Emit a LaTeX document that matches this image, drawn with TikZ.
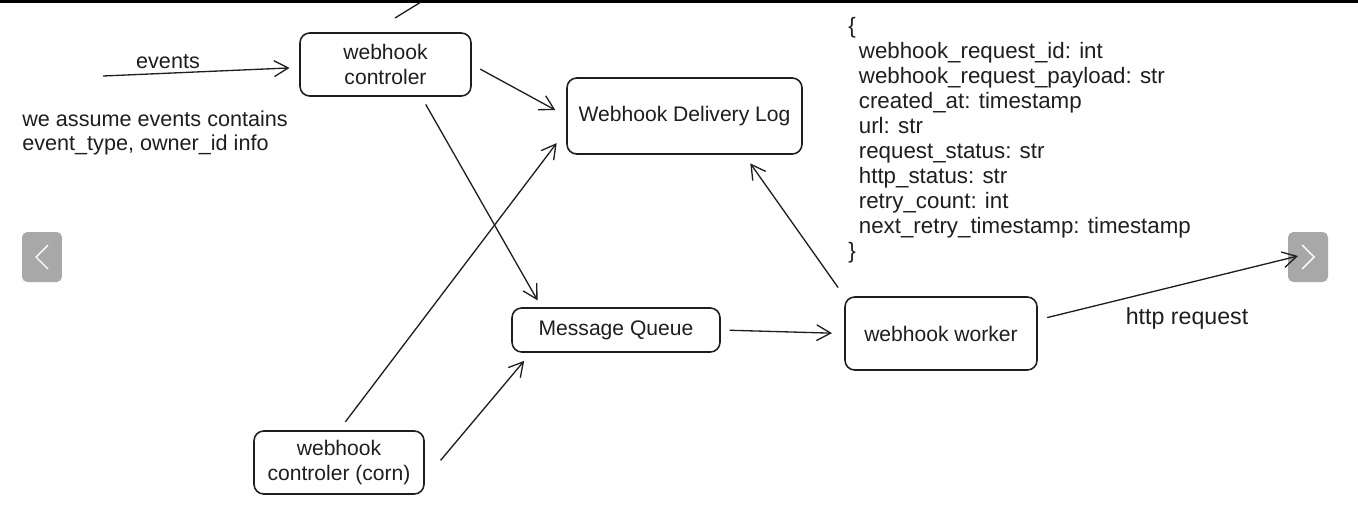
\documentclass[tikz,border=0pt]{standalone}
\usepackage{fontspec}
\setmainfont{Liberation Sans}
\usepackage{xcolor}
\usepackage{tikz}
\usetikzlibrary{arrows.meta, calc}
\definecolor{inkblack}{RGB}{30,30,30}
\definecolor{navgray}{RGB}{168,168,168}

\begin{document}
\begin{tikzpicture}[
    x=0.02cm, y=-0.02cm,
    box/.style={rectangle, rounded corners=5.5pt, draw=inkblack, line width=0.9pt, align=center, text=inkblack, font=\fontsize{12}{14.2}\selectfont},
    note/.style={align=left, inner sep=0pt, text=inkblack, font=\fontsize{12.3}{14.2}\selectfont},
    navbtn/.style={rectangle, rounded corners=3pt, fill=navgray, minimum width=0.8cm, minimum height=1.0cm},
    chevron/.style={draw=white, line width=0.8pt},
    arrow/.style={-{Straight Barb[length=8pt, width=9pt]}, line width=0.75pt, draw=inkblack}
]
\useasboundingbox (0,0) rectangle (1358,521);
\fill[black] (0,0) rectangle (1358,3);

% slide buttons
\node[navbtn] (prevbtn) at (42,257) {};
\node[navbtn] (nextbtn) at (1308,257) {};
\draw[chevron] ($(prevbtn.center)+(6,-12)$) -- ++(-12,12) -- ++(12,12);
\draw[chevron] ($(nextbtn.center)+(-6,-12)$) -- ++(12,12) -- ++(-12,12);

\node[box, minimum width=3.42cm, minimum height=1.26cm] (ctrl) at (385.5,64.5) {webhook\\controler};
\node[box, minimum width=4.7cm, minimum height=1.52cm] (log) at (684.5,116) {Webhook Delivery Log};
\node[box, minimum width=4.16cm, minimum height=0.88cm] (mq) at (616,330) {Message Queue};
\node[box, minimum width=3.84cm, minimum height=1.46cm] (worker) at (941,333.5) {webhook worker};
\node[box, minimum width=3.4cm, minimum height=1.26cm] (corn) at (339,462.5) {webhook\\controler (corn)};

\node[note] (evlabel) at (168,62) {events};
\node[note, anchor=north west] (assume) at (22,110) {we assume events contains\\event\_type, owner\_id info};
\node[note, font=\fontsize{13.2}{15}\selectfont] (httplabel) at (1187,318) {http request};
\node[note, anchor=north west, font=\fontsize{12.7}{14.2}\selectfont] (schema) at (848,17) {\{\\
\hspace*{6pt}webhook\_request\_id: int\\
\hspace*{6pt}webhook\_request\_payload: str\\
\hspace*{6pt}created\_at: timestamp\\
\hspace*{6pt}url: str\\
\hspace*{6pt}request\_status: str\\
\hspace*{6pt}http\_status: str\\
\hspace*{6pt}retry\_count: int\\
\hspace*{6pt}next\_retry\_timestamp: timestamp\\
\}};

\coordinate (offtop) at (421,2);
\coordinate (offend) at (395,18);
\coordinate (evsrc) at (103,76);
\coordinate (httpout) at (1298,256);

\draw[line width=0.75pt, inkblack] (offtop) -- (offend);
\draw[arrow, shorten >=5.5pt] (evsrc) -- (ctrl.182);
\draw[arrow, shorten <=5.5pt, shorten >=7pt] (ctrl.east) -- (log.west);
\draw[arrow, shorten <=5pt, shorten >=4.5pt] (ctrl.-42) -- (mq.163);
\draw[arrow, shorten <=6pt, shorten >=9pt] (corn.north) -- (log.187);
\draw[arrow, shorten <=14pt, shorten >=6pt] (corn.-11) -- (mq.195);
\draw[arrow, shorten <=5pt, shorten >=7pt] (mq.east) -- (worker.west);
\draw[arrow, shorten <=6pt, shorten >=6pt] (worker.north west) -- (log.-33);
\draw[arrow, shorten <=5.5pt] (worker.8) -- (httpout);
\end{tikzpicture}
\end{document}
